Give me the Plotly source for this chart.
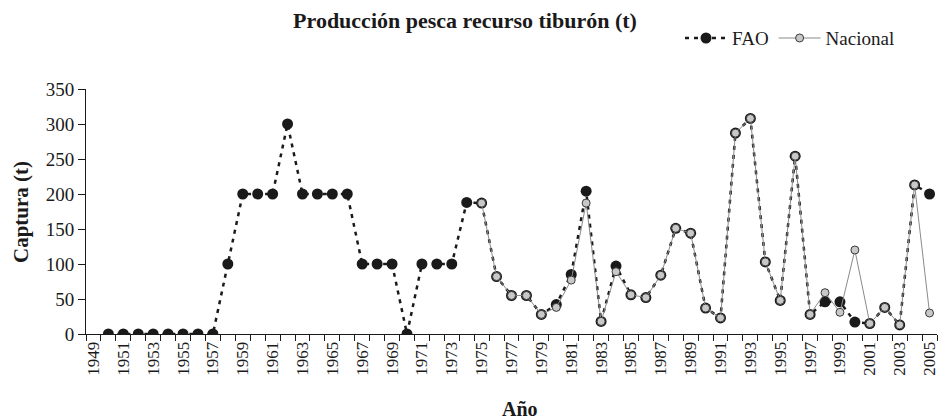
import plotly.graph_objects as go

years = list(range(1949, 2006))

fao = [
    None, 0, 0, 0, 0, 0, 0, 0, 0, 100,       # 1949-1958
    200, 200, 200, 300, 200, 200, 200, 200,  # 1959-1966
    100, 100, 100, 0, 100, 100, 100, 188,    # 1967-1974
    187, 82, 55, 55, 28, 42, 85, 204, 18,    # 1975-1983
    97, 56, 52, 84, 151, 144, 37, 23,        # 1984-1991
    287, 308, 103, 48, 254, 28, 46, 46,      # 1992-1999
    17, 15, 38, 13, 213, 200,                # 2000-2005
]

nacional = [None] * 26 + [
    187, 82, 55, 55, 28, 38, 77, 187, 18,    # 1975-1983
    89, 56, 52, 84, 151, 144, 37, 23,        # 1984-1991
    287, 308, 103, 48, 254, 28, 59, 31,      # 1992-1999
    120, 15, 38, 13, 213, 30,                # 2000-2005
]

label_years = list(range(1949, 2006, 2))

FONT = "Liberation Serif, Times New Roman, serif"
INK = "#1a1a1a"

# the page body adds an 8px margin, so the figure is 8px smaller each way
W, H = 940, 412
L, R, T, B = 78, 11, 77, 86
PW, PH = W - L - R, H - T - B

fig = go.Figure()

fig.add_trace(
    go.Scatter(
        x=years,
        y=fao,
        name="FAO",
        mode="lines+markers",
        line=dict(color=INK, width=2.5, dash="4px,5px"),
        marker=dict(size=11, color=INK, line=dict(width=0)),
        connectgaps=False,
    )
)

fig.add_trace(
    go.Scatter(
        x=years,
        y=nacional,
        name="Nacional",
        mode="lines+markers",
        line=dict(color="#8a8a8a", width=1),
        marker=dict(size=8, color="#c8c8c8", line=dict(width=1, color="#3a3a3a")),
        connectgaps=False,
    )
)

fig.update_layout(
    width=W,
    height=H,
    paper_bgcolor="white",
    plot_bgcolor="white",
    margin=dict(l=L, r=R, t=T, b=B),
    font=dict(family=FONT, size=17, color=INK),
    title=dict(
        text="<b>Producción pesca recurso tiburón (t)</b>",
        x=457 / W,
        xanchor="center",
        y=1 - 12 / H,
        yanchor="middle",
        font=dict(family=FONT, size=22, color=INK),
    ),
    legend=dict(
        orientation="h",
        x=(672 - L) / PW,
        xanchor="left",
        y=1 + (T - 6) / PH,
        yanchor="top",
        font=dict(family=FONT, size=19, color=INK),
        bgcolor="rgba(0,0,0,0)",
        itemwidth=42,
    ),
    showlegend=True,
)

# axis titles placed by hand so the plot area keeps its size
fig.add_annotation(
    text="<b>Captura (t)</b>",
    xref="paper", yref="paper",
    x=(13 - L) / PW, y=(H - B - 202) / PH,
    xanchor="center", yanchor="middle",
    textangle=-90,
    showarrow=False,
    font=dict(family=FONT, size=21, color=INK),
)
fig.add_annotation(
    text="<b>Año</b>",
    xref="paper", yref="paper",
    x=(512 - L) / PW, y=-76 / PH,
    xanchor="center", yanchor="middle",
    showarrow=False,
    font=dict(family=FONT, size=20, color=INK),
)

fig.update_xaxes(
    range=[1948.5, 2005.5],
    automargin=False,
    tickmode="array",
    tickvals=label_years,
    ticktext=[str(y) for y in label_years],
    tickangle=-90,
    ticks="",
    showline=True,
    linecolor=INK,
    linewidth=1,
    showgrid=False,
    zeroline=False,
    tickfont=dict(family=FONT, size=17),
    minor=dict(
        tick0=1948.5,
        dtick=1,
        ticks="outside",
        ticklen=6,
        tickcolor=INK,
        tickwidth=1,
        showgrid=False,
    ),
)

fig.update_yaxes(
    range=[0, 350],
    automargin=False,
    tickmode="linear",
    tick0=0,
    dtick=50,
    ticks="outside",
    ticklen=7,
    tickcolor=INK,
    showline=True,
    linecolor=INK,
    linewidth=1,
    showgrid=False,
    zeroline=False,
    tickfont=dict(family=FONT, size=19),
)

fig.write_html("out.html")
